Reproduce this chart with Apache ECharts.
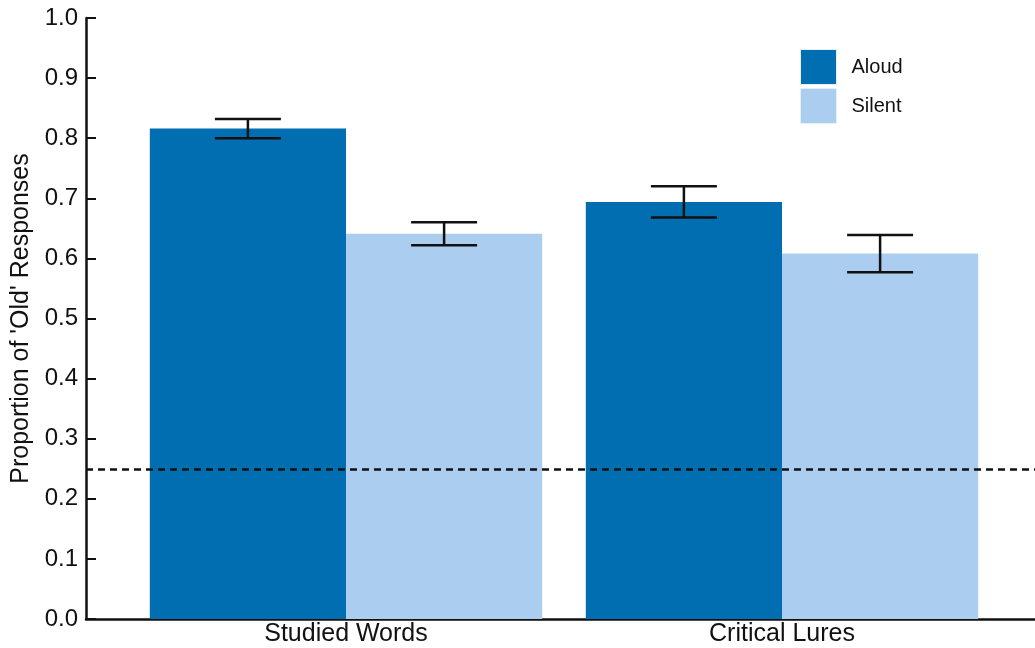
<!DOCTYPE html>
<html>
<head>
<meta charset="utf-8">
<script src="https://cdn.jsdelivr.net/npm/echarts@6/dist/echarts.min.js"></script>
<style>
  html, body { margin: 0; padding: 0; background: #fff; }
  #chart { width: 1035px; height: 648px; }
</style>
</head>
<body>
<div id="chart"></div>
<script>
// Conditions and study-phase modes
const categories = ['Studied Words', 'Critical Lures'];
const seriesNames = ['Aloud', 'Silent'];
// Mean proportion of 'old' responses
const aloudValues = [0.816, 0.694];
const silentValues = [0.641, 0.608];
// Half-width of the error bars (standard error)
const aloudErrors = [0.016, 0.026];
const silentErrors = [0.019, 0.031];
// Chance-level reference line
const chanceLevel = 0.252;
const yTicks = [0, 0.1, 0.2, 0.3, 0.4, 0.5, 0.6, 0.7, 0.8, 0.9, 1.0];

const colors = ['#006eb0', '#abcdef'];
const barShare = 0.45; // fraction of a category band taken by each bar

const chart = echarts.init(document.getElementById('chart'), null, { renderer: 'canvas' });

function errorItem(sign) {
  return function (params, api) {
    const x = api.value(0);
    const mean = api.value(1);
    const err = api.value(2);
    const band = api.size([1, 0])[0];
    const center = api.coord([x, mean])[0] + sign * band * barShare / 2;
    const top = api.coord([x, mean + err])[1];
    const bottom = api.coord([x, mean - err])[1];
    const half = 33;
    const style = { stroke: '#111', lineWidth: 2.5 };
    return {
      type: 'group',
      children: [
        { type: 'line', shape: { x1: center, y1: top, x2: center, y2: bottom }, style },
        { type: 'line', shape: { x1: center - half, y1: top, x2: center + half, y2: top }, style },
        { type: 'line', shape: { x1: center - half, y1: bottom, x2: center + half, y2: bottom }, style }
      ]
    };
  };
}

const option = {
  backgroundColor: '#fff',
  animation: false,
  textStyle: { fontFamily: 'Liberation Sans, Arial, sans-serif' },
  legend: {
    data: seriesNames,
    left: 800,
    top: 49,
    padding: 0,
    orient: 'vertical',
    itemWidth: 36,
    itemHeight: 35,
    itemGap: 3,
    icon: 'rect',
    textStyle: { fontSize: 20, color: '#111', padding: [0, 0, 0, 10] },
    itemStyle: { borderColor: '#e6eef6', borderWidth: 1 }
  },
  grid: [
    { left: 86, right: 0, top: 18, bottom: 29, outerBoundsMode: 'none', containLabel: false },
    { left: 128, right: 35, top: 18, bottom: 29, outerBoundsMode: 'none', containLabel: false }
  ],
  xAxis: [
    {
      gridIndex: 0, type: 'value', min: 0, max: 1,
      axisLine: { show: true, lineStyle: { color: '#111', width: 2.5 } },
      axisTick: { show: false }, axisLabel: { show: false }, splitLine: { show: false }
    },
    {
      gridIndex: 1, type: 'category', data: categories,
      axisLine: { show: false }, axisTick: { show: false }, splitLine: { show: false },
      axisLabel: { fontSize: 25, color: '#111', margin: 3 }
    }
  ],
  yAxis: [
    {
      gridIndex: 0, type: 'value', min: 0, max: 1, interval: 0.1,
      name: "Proportion of 'Old' Responses",
      nameLocation: 'middle', nameGap: 52, nameRotate: 90,
      nameTextStyle: { fontSize: 25, color: '#111' },
      axisLine: { show: true, lineStyle: { color: '#111', width: 2.5 } },
      axisTick: { show: true, inside: true, length: 10, lineStyle: { color: '#111', width: 2 } },
      axisLabel: { fontSize: 24, color: '#111', margin: 8, formatter: v => v.toFixed(1) },
      splitLine: { show: false }
    },
    {
      gridIndex: 1, type: 'value', min: 0, max: 1, show: false
    }
  ],
  series: [
    {
      name: seriesNames[0], type: 'bar', xAxisIndex: 1, yAxisIndex: 1,
      data: aloudValues, barWidth: (barShare * 100) + '%', barGap: '0%',
      itemStyle: { color: colors[0] }
    },
    {
      name: seriesNames[1], type: 'bar', xAxisIndex: 1, yAxisIndex: 1,
      data: silentValues, barWidth: (barShare * 100) + '%', barGap: '0%',
      itemStyle: { color: colors[1] }
    },
    {
      type: 'custom', xAxisIndex: 1, yAxisIndex: 1, z: 5,
      renderItem: errorItem(-1),
      data: categories.map((c, i) => [i, aloudValues[i], aloudErrors[i]])
    },
    {
      type: 'custom', xAxisIndex: 1, yAxisIndex: 1, z: 5,
      renderItem: errorItem(1),
      data: categories.map((c, i) => [i, silentValues[i], silentErrors[i]])
    },
    {
      type: 'line', xAxisIndex: 0, yAxisIndex: 0, data: [], z: 6,
      markLine: {
        silent: true, symbol: 'none', label: { show: false },
        lineStyle: { color: '#111', type: [7, 5], width: 2.5 },
        data: [{ yAxis: chanceLevel }]
      }
    }
  ]
};

chart.setOption(option);
</script>
</body>
</html>
